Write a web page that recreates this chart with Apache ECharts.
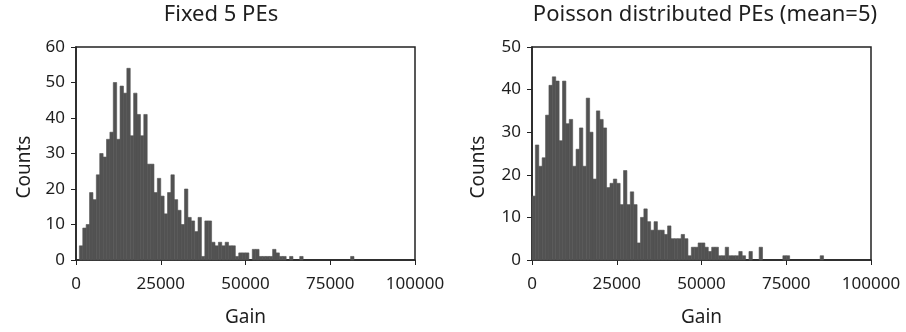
<!DOCTYPE html>
<html>
<head>
<meta charset="utf-8">
<script src="https://cdn.jsdelivr.net/npm/echarts@6/dist/echarts.min.js"></script>
<style>
html,body{margin:0;padding:0;background:#fff;}
#chart{width:906px;height:332px;}
</style>
</head>
<body>
<div id="chart"></div>
<script>
// Bin width (gain units) and bin counts, bins start at 0
var binWidth = 1000;
var fixedCounts = [0,4,9,10,19,17,24,30,29,34,36,50,34,49,47,54,35,47,41,35,41,27,27,19,23,18,13,19,24,17,14,10,20,12,11,8,12,1,11,11,5,4,5,4,5,4,4,1,2,2,2,0,3,3,1,1,1,1,3,2,1,1,0,1,0,0,1,0,0,0,0,0,0,0,0,0,0,0,0,0,0,1];
var poissonCounts = [15,27,22,24,34,41,43,42,28,42,32,33,22,26,31,22,38,30,19,35,33,31,17,18,19,18,13,21,13,16,13,4,10,12,9,7,9,7,7,6,8,5,5,5,6,5,1,3,3,4,4,3,2,3,3,1,1,3,1,1,1,2,1,0,2,0,0,3,0,0,0,0,0,0,1,1,0,0,0,0,0,0,0,0,0,1];
var xTicks = [0,25000,50000,75000,100000];
var titles = ['Fixed 5 PEs','Poisson distributed PEs (mean=5)'];
var yTitle = 'Counts';
var xTitle = 'Gain';
var yMax = [60,50];

function toBins(counts){
  return counts.map(function(c,i){ return [i*binWidth,(i+1)*binWidth,c]; });
}

var FONT = 'Noto Sans';
var TXT = '#1e1e1e';
var BAR = '#525252';
var chart = echarts.init(document.getElementById('chart'), null, {renderer:'canvas'});

function renderBar(params, api){
  if (api.value(2) <= 0) return null;
  var p0 = api.coord([api.value(0), api.value(2)]);
  var p1 = api.coord([api.value(1), 0]);
  return {
    type:'rect',
    shape:{x:p0[0], y:p0[1], width:p1[0]-p0[0], height:p1[1]-p0[1]},
    style:{fill:BAR, stroke:BAR, lineWidth:0.6}
  };
}

var grids = [
  {left:76, top:47, width:339, height:214},
  {left:532, top:47, width:339, height:214}
];

var option = {
  animation:false,
  backgroundColor:'#fff',
  title: [
    {text:titles[0], left:221, top:4, padding:0, textAlign:'center', textStyle:{fontFamily:FONT,fontSize:22,fontWeight:'normal',color:TXT}},
    {text:titles[1], left:705, top:4, padding:0, textAlign:'center', textStyle:{fontFamily:FONT,fontSize:22,fontWeight:'normal',color:TXT}}
  ],
  graphic: [
    {type:'text', x:25, y:167, rotation:Math.PI/2, style:{text:yTitle, fontFamily:FONT, fontSize:19, fill:TXT, textAlign:'center', textVerticalAlign:'middle'}},
    {type:'text', x:479, y:167, rotation:Math.PI/2, style:{text:yTitle, fontFamily:FONT, fontSize:19, fill:TXT, textAlign:'center', textVerticalAlign:'middle'}}
  ],
  grid: grids.map(function(g){ return Object.assign({show:true, borderColor:'#222', borderWidth:1.5, backgroundColor:'#fff'}, g); }),
  xAxis: [0,1].map(function(i){
    return {
      type:'value', gridIndex:i, min:xTicks[0], max:xTicks[xTicks.length-1], interval:xTicks[1]-xTicks[0],
      name:xTitle, nameLocation:'middle', nameGap:48,
      nameTextStyle:{fontFamily:FONT,fontSize:19,color:TXT},
      axisLine:{show:true,lineStyle:{color:'#222',width:1.5}},
      axisTick:{show:true,length:5,lineStyle:{color:'#222'}},
      axisLabel:{fontFamily:FONT,fontSize:17,color:TXT,margin:16, formatter:function(v){return String(v);}},
      splitLine:{show:false}
    };
  }),
  yAxis: [0,1].map(function(i){
    return {
      type:'value', gridIndex:i, min:0, max:yMax[i], interval:10,
      axisLine:{show:true,lineStyle:{color:'#222',width:1.5}},
      axisTick:{show:true,length:5,lineStyle:{color:'#222'}},
      axisLabel:{fontFamily:FONT,fontSize:17,color:TXT,margin:11},
      splitLine:{show:false}
    };
  }),
  series: [
    {type:'custom', xAxisIndex:0, yAxisIndex:0, renderItem:renderBar, data:toBins(fixedCounts), encode:{x:[0,1],y:2}},
    {type:'custom', xAxisIndex:1, yAxisIndex:1, renderItem:renderBar, data:toBins(poissonCounts), encode:{x:[0,1],y:2}}
  ]
};
chart.setOption(option);
</script>
</body>
</html>
